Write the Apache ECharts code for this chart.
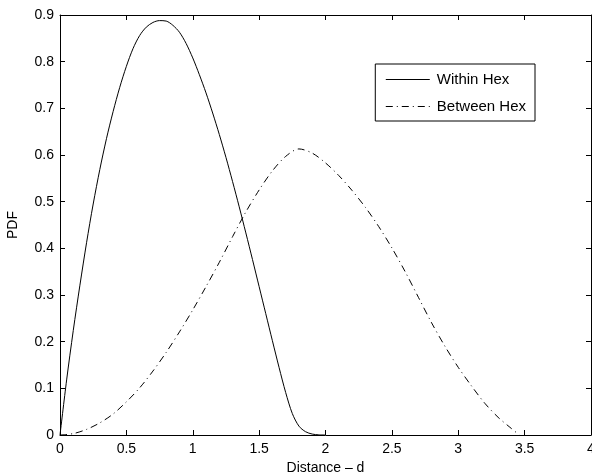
<!DOCTYPE html>
<html>
<head>
<meta charset="utf-8">
<script src="https://cdn.jsdelivr.net/npm/echarts@6/dist/echarts.min.js"></script>
<style>html,body{margin:0;padding:0;background:#fff;overflow:hidden}#c{width:592px;height:473px}</style>
</head>
<body>
<div id="c"></div>
<script>
// Within Hex (solid)
var withinX = [0,0.05,0.1,0.15,0.2,0.25,0.3,0.35,0.4,0.45,0.5,0.55,0.6,0.65,0.7,0.75,0.8,0.85,0.9,0.95,1.0,1.05,1.1,1.15,1.2,1.25,1.3,1.35,1.4,1.45,1.5,1.55,1.6,1.65,1.7,1.75,1.8,1.85,1.9,1.95,2.0];
var withinY = [0,0.118,0.224,0.321,0.412,0.495,0.569,0.635,0.693,0.745,0.79,0.828,0.856,0.874,0.884,0.888,0.887,0.878,0.863,0.839,0.808,0.772,0.733,0.69,0.644,0.595,0.543,0.489,0.433,0.376,0.318,0.26,0.202,0.145,0.091,0.046,0.019,0.007,0.002,0.0003,0];
// Between Hex (dash-dot)
var betweenX = [0,0.1,0.2,0.3,0.4,0.5,0.6,0.7,0.8,0.9,1.0,1.1,1.2,1.3,1.4,1.5,1.6,1.7,1.8,1.9,2.0,2.1,2.2,2.3,2.4,2.5,2.6,2.7,2.8,2.9,3.0,3.1,3.2,3.3,3.4,3.46];
var betweenY = [0,0.003,0.012,0.026,0.045,0.071,0.101,0.137,0.177,0.221,0.268,0.318,0.37,0.425,0.478,0.525,0.566,0.597,0.613,0.604,0.583,0.556,0.524,0.488,0.447,0.401,0.35,0.295,0.24,0.19,0.145,0.105,0.068,0.038,0.014,0];
var seriesNames = ['Within Hex','Between Hex'];
var xLabel = 'Distance \u2013 d';
var yLabel = 'PDF';

function pairs(xs, ys){ return xs.map(function(x,i){ return [x, ys[i]]; }); }

var font = 'Liberation Sans, Arial, Helvetica, sans-serif';
var chart = echarts.init(document.getElementById('c'), null, {renderer:'canvas'});
var tickStyle = {show:true, inside:true, length:5, lineStyle:{color:'#000', width:1}};
var lineStyleAxis = {show:true, onZero:false, lineStyle:{color:'#000', width:1}};
chart.setOption({
  animation:false,
  backgroundColor:'#fff',
  grid:{left:60, right:1, top:15, bottom:38, containLabel:false, outerBoundsMode:'none'},
  legend:{
    right:57, top:64, orient:'vertical',
    backgroundColor:'#fff', borderColor:'#000', borderWidth:1,
    padding:[8,9,7,10], itemGap:12, itemWidth:44, itemHeight:10,
    itemStyle:{opacity:0},
    lineStyle:{width:1},
    textStyle:{fontFamily:font, fontSize:15, color:'#000', padding:[0,0,0,2]},
    data:seriesNames
  },
  xAxis:[{
    type:'value', min:0, max:4, interval:0.5, position:'bottom',
    name:xLabel, nameLocation:'middle', nameGap:22,
    nameTextStyle:{fontFamily:font, fontSize:14, color:'#000'},
    axisLine:lineStyleAxis, axisTick:tickStyle, splitLine:{show:false},
    axisLabel:{fontFamily:font, fontSize:14, color:'#000', margin:7}
  },{
    type:'value', min:0, max:4, interval:0.5, position:'top',
    axisLine:lineStyleAxis, axisTick:tickStyle, splitLine:{show:false},
    axisLabel:{show:false}
  }],
  yAxis:[{
    type:'value', min:0, max:0.9, interval:0.1, position:'left',
    name:yLabel, nameLocation:'middle', nameGap:40, nameRotate:90,
    nameTextStyle:{fontFamily:font, fontSize:14, color:'#000'},
    axisLine:lineStyleAxis, axisTick:tickStyle, splitLine:{show:false},
    axisLabel:{fontFamily:font, fontSize:14, color:'#000', margin:6}
  },{
    type:'value', min:0, max:0.9, interval:0.1, position:'right',
    axisLine:lineStyleAxis, axisTick:tickStyle, splitLine:{show:false},
    axisLabel:{show:false}
  }],
  series:[{
    name:seriesNames[0], type:'line', symbol:'none', smooth:0.3,
    data:pairs(withinX, withinY),
    lineStyle:{color:'#000', width:1, type:'solid'},
    itemStyle:{color:'#000'}
  },{
    name:seriesNames[1], type:'line', symbol:'none', smooth:0.3,
    data:pairs(betweenX, betweenY),
    lineStyle:{color:'#000', width:1, type:[7,4,1,4]},
    itemStyle:{color:'#000'}
  }]
});
</script>
</body>
</html>
